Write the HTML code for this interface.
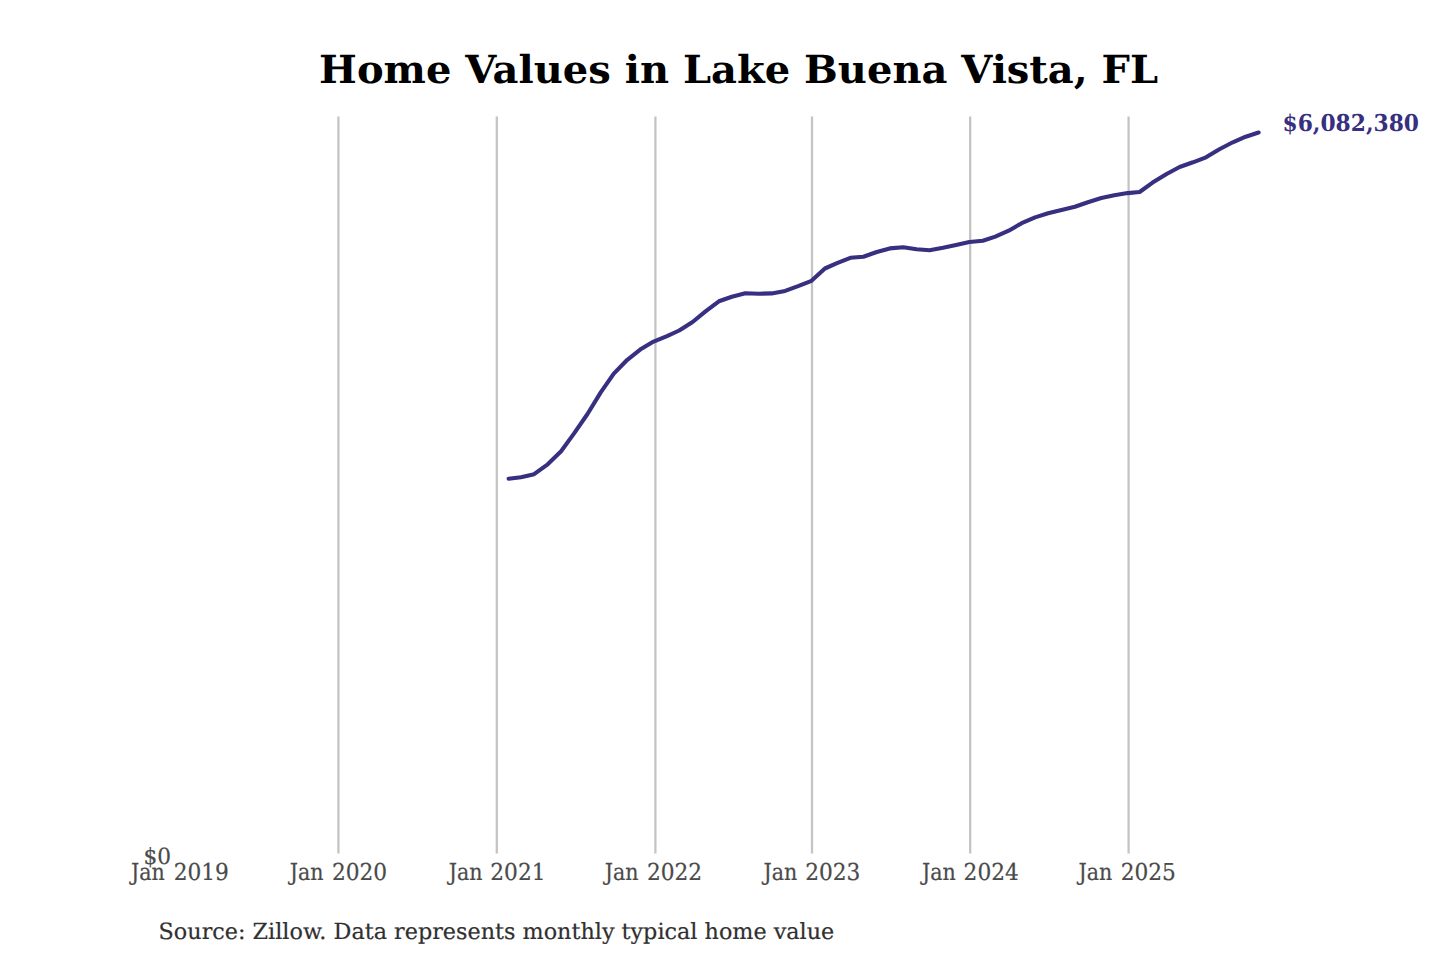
<!DOCTYPE html>
<html><head><meta charset="utf-8"><title>Home Values in Lake Buena Vista, FL</title>
<style>
html,body{margin:0;padding:0;background:#fff;}
body{width:1440px;height:960px;overflow:hidden;}
svg{display:block;}
text{font-family:"DejaVu Serif","Liberation Serif",serif;text-rendering:geometricPrecision;}
.title{font-size:40px;font-weight:bold;fill:#000;text-anchor:middle;}
.ax{font-size:21.7px;fill:#4a4a4a;stroke:#4a4a4a;stroke-width:0.2px;}
.y0{font-size:21.7px;fill:#4a4a4a;stroke:#4a4a4a;stroke-width:0.2px;text-anchor:end;}
.val{font-size:21.8px;font-weight:bold;fill:#372f80;}
.src{font-size:22.3px;fill:#303030;stroke:#303030;stroke-width:0.2px;}
</style></head><body>
<svg width="1440" height="960" viewBox="0 0 1440 960">
<line x1="338.4" y1="116.5" x2="338.4" y2="853.5" stroke="#c4c4c4" stroke-width="2.3"/>
<line x1="496.8" y1="116.5" x2="496.8" y2="853.5" stroke="#c4c4c4" stroke-width="2.3"/>
<line x1="655.4" y1="116.5" x2="655.4" y2="853.5" stroke="#c4c4c4" stroke-width="2.3"/>
<line x1="812.0" y1="116.5" x2="812.0" y2="853.5" stroke="#c4c4c4" stroke-width="2.3"/>
<line x1="970.2" y1="116.5" x2="970.2" y2="853.5" stroke="#c4c4c4" stroke-width="2.3"/>
<line x1="1128.6" y1="116.5" x2="1128.6" y2="853.5" stroke="#c4c4c4" stroke-width="2.3"/>
<path d="M508.6,478.8 L521.0,477.2 L534.1,474.2 L547.7,464.3 L561.1,451.2 L574.1,433.4 L587.5,414.0 L600.9,392.1 L613.8,373.6 L627.3,359.8 L640.2,349.6 L653.6,341.6 L667.0,336.1 L679.2,330.5 L692.6,322.0 L705.5,311.4 L718.9,301.3 L731.9,296.8 L745.3,293.3 L758.7,293.7 L771.7,293.4 L785.1,290.9 L798.1,286.1 L811.5,280.8 L824.9,268.5 L837.0,263.2 L850.4,257.8 L863.4,256.8 L876.8,252.0 L889.8,248.4 L903.2,247.2 L916.6,249.3 L929.6,250.2 L943.0,247.8 L956.0,244.9 L969.4,242.0 L982.8,240.8 L995.3,236.6 L1008.7,230.7 L1021.7,223.2 L1035.1,217.4 L1048.1,213.3 L1061.5,209.9 L1074.9,206.7 L1087.9,202.2 L1101.3,198.0 L1114.3,195.2 L1127.6,193.1 L1139.6,192.0 L1152.6,182.6 L1166.6,174.0 L1179.6,167.0 L1193.0,162.3 L1206.0,157.3 L1219.4,149.2 L1232.8,142.3 L1245.7,136.7 L1258.6,132.5" fill="none" stroke="#372f80" stroke-width="4.1" stroke-linejoin="round" stroke-linecap="round"/>
<text transform="translate(131.10 879.8) scale(0.949 1.08)" class="ax">Jan</text>
<text transform="translate(173.65 879.8) scale(1 1.075)" class="ax">2019</text>
<text transform="translate(289.80 879.8) scale(0.949 1.08)" class="ax">Jan</text>
<text transform="translate(331.90 879.8) scale(1 1.075)" class="ax">2020</text>
<text transform="translate(448.70 879.8) scale(0.949 1.08)" class="ax">Jan</text>
<text transform="translate(490.30 879.8) scale(1 1.075)" class="ax">2021</text>
<text transform="translate(604.80 879.8) scale(0.949 1.08)" class="ax">Jan</text>
<text transform="translate(646.90 879.8) scale(1 1.075)" class="ax">2022</text>
<text transform="translate(763.50 879.8) scale(0.949 1.08)" class="ax">Jan</text>
<text transform="translate(805.20 879.8) scale(1 1.075)" class="ax">2023</text>
<text transform="translate(921.90 879.8) scale(0.949 1.08)" class="ax">Jan</text>
<text transform="translate(963.60 879.8) scale(1 1.075)" class="ax">2024</text>
<text transform="translate(1078.60 879.8) scale(0.949 1.08)" class="ax">Jan</text>
<text transform="translate(1120.70 879.8) scale(1 1.075)" class="ax">2025</text>
<text transform="translate(171.0 863.5) scale(1 1.03)" class="y0">$0</text>
<text transform="translate(1282.5 130.5) scale(1 1.06)" class="val">$6,082,380</text>
<text transform="translate(738.6 82.6) scale(1 0.965)" class="title">Home Values in Lake Buena Vista, FL</text>
<text transform="translate(158.6 939) scale(1 1.0)" class="src">Source: Zillow. Data represents monthly typical home value</text>
</svg>
</body></html>
